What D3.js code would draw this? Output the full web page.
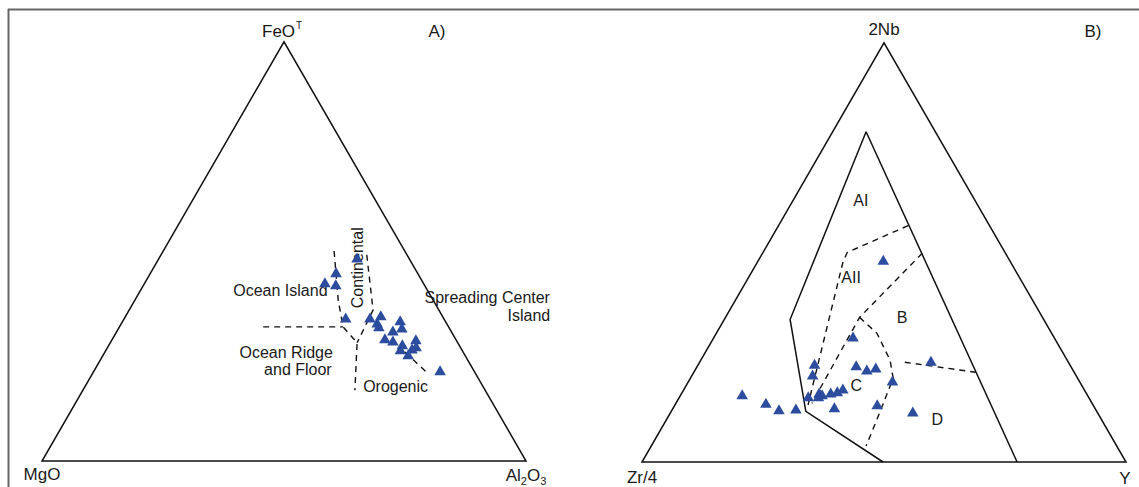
<!DOCTYPE html>
<html><head><meta charset="utf-8">
<script src="https://cdn.jsdelivr.net/npm/d3@7"></script>
<style>
html,body{margin:0;padding:0;background:#fff;}
text{font-family:"Liberation Sans",Arial,sans-serif;fill:#1a1a1a;}
</style></head>
<body><svg id="c" width="1139" height="487"></svg>
<script>
// ---- Data (ternary fractions: top, right, left) ----
// Panel A: FeOT (top), Al2O3 (right), MgO (left)
const samplesA_FeO = [0.449,0.425,0.420,0.341,0.341,0.346,0.329,0.320,0.334,0.317,0.310,0.291,0.286,0.277,0.289,0.272,0.267,0.253,0.265,0.215,0.484];
const samplesA_Al2O3 = [0.383,0.372,0.397,0.457,0.507,0.527,0.528,0.536,0.573,0.585,0.570,0.563,0.582,0.606,0.628,0.637,0.631,0.630,0.608,0.715,0.409];
// Panel B: 2Nb (top), Y (right), Zr/4 (left)
const samplesB_Nb = [0.481,0.298,0.233,0.207,0.229,0.219,0.224,0.193,0.240,0.174,0.167,0.164,0.164,0.155,0.155,0.160,0.140,0.124,0.126,0.129,0.136,0.119,0.160];
const samplesB_Y  = [0.258,0.287,0.240,0.249,0.328,0.355,0.371,0.421,0.477,0.328,0.320,0.308,0.284,0.287,0.266,0.127,0.186,0.221,0.255,0.333,0.418,0.500,0.292];

// Field boundaries (top, right)
const boundsA = [
  {dash:true, pts:[[0.501,0.353],[0.384,0.420],[0.320,0.462],[0.282,0.510],[0.169,0.562]]},
  {dash:true, pts:[[0.320,0.297],[0.320,0.462]]},
  {dash:true, pts:[[0.492,0.425],[0.360,0.504],[0.282,0.510]]},
  {dash:true, pts:[[0.260,0.620],[0.208,0.694]]}
];
const boundsB = [
  {dash:false, pts:[[0.788,0.069],[0.340,0.136],[0.121,0.278],[0.0,0.498]]},
  {dash:false, pts:[[0.788,0.069],[0.0,0.775]]},
  {dash:true, pts:[[0.564,0.268],[0.500,0.174],[0.476,0.177],[0.136,0.275]]},
  {dash:true, pts:[[0.498,0.330],[0.345,0.277],[0.140,0.281]]},
  {dash:true, pts:[[0.345,0.277],[0.307,0.332],[0.243,0.391],[0.200,0.419],[0.119,0.432],[0.038,0.444]]},
  {dash:true, pts:[[0.238,0.424],[0.214,0.583]]}
];
const fieldLabelsA = [
  {t:"Ocean Island", top:0.406, right:0.387, anchor:"end", rot:0, dx:0, dy:5},
  {t:"Continental", top:0.461, right:0.422, anchor:"middle", rot:-90, dx:0, dy:0},
  {t:"Spreading Center", top:0.389, right:0.855, anchor:"end", rot:0, dx:0, dy:5},
  {t:"Island", top:0.346, right:0.877, anchor:"end", rot:0, dx:0, dy:5},
  {t:"Ocean Ridge", top:0.258, right:0.472, anchor:"end", rot:0, dx:0, dy:5},
  {t:"and Floor", top:0.217, right:0.490, anchor:"end", rot:0, dx:0, dy:5},
  {t:"Orogenic", top:0.177, right:0.575, anchor:"start", rot:0, dx:0, dy:5}
];
const fieldLabelsB = [
  {t:"AI", top:0.624, right:0.140},
  {t:"AII", top:0.440, right:0.212},
  {t:"B", top:0.345, right:0.365},
  {t:"C", top:0.183, right:0.351},
  {t:"D", top:0.102, right:0.559}
];

const svg = d3.select("#c");
// frame
svg.append("line").attr("x1",8).attr("x2",1139).attr("y1",9.5).attr("y2",9.5).attr("stroke","#666").attr("stroke-width",2);
svg.append("line").attr("x1",8.5).attr("x2",8.5).attr("y1",9).attr("y2",487).attr("stroke","#666").attr("stroke-width",2);

function panel(cfg){
  const g = svg.append("g");
  const xs = d3.scaleLinear().domain([0,1]).range([cfg.x0, cfg.x0+cfg.side]);
  const ys = d3.scaleLinear().domain([0,1]).range([cfg.base, cfg.base - cfg.side*Math.sqrt(3)/2]);
  const P = (t,r) => [xs(r + t/2), ys(t)];
  const line = d3.line();
  // outline
  g.append("path").attr("d", line([P(0,0),P(0,1),P(1,0)])+"Z")
    .attr("fill","none").attr("stroke","#111").attr("stroke-width",1.5);
  cfg.bounds.forEach(b=>{
    g.append("path").attr("d", line(b.pts.map(p=>P(p[0],p[1]))))
      .attr("fill","none").attr("stroke","#111").attr("stroke-width",b.dash?1.4:1.5)
      .attr("stroke-dasharray", b.dash?"6,5":null);
  });
  cfg.labels.forEach(l=>{
    const [x,y] = P(l.top,l.right);
    g.append("text").attr("font-size",16)
      .attr("text-anchor", l.anchor||"middle")
      .attr("transform", `translate(${x+(l.dx||0)},${y+(l.dy===undefined?5.5:l.dy)}) rotate(${l.rot||0})`)
      .attr("dy", l.rot? "0.35em":null)
      .text(l.t);
  });
  const sym = d3.symbol().type(d3.symbolTriangle).size(58);
  cfg.top.forEach((t,i)=>{
    const [x,y] = P(t, cfg.right[i]);
    g.append("path").attr("d", sym()).attr("transform",`translate(${x},${y+1})`).attr("fill","#2c4d9e");
  });
  return P;
}

panel({x0:42, side:484, base:461, bounds:boundsA, labels:fieldLabelsA, top:samplesA_FeO, right:samplesA_Al2O3});
panel({x0:642, side:484, base:462, bounds:boundsB, labels:fieldLabelsB, top:samplesB_Nb, right:samplesB_Y});

// vertex labels
const fs = 17;
function T(x,y,anchor){ return svg.append("text").attr("x",x).attr("y",y).attr("font-size",fs).attr("text-anchor",anchor||"middle"); }
const fe = T(262,37,"start"); fe.append("tspan").text("FeO"); fe.append("tspan").attr("font-size",10).attr("dy",-8).attr("dx",1).text("T");
T(437,37).text("A)");
T(42,480).text("MgO");
const al = T(526,481);
al.append("tspan").text("Al"); al.append("tspan").attr("font-size",11).attr("dy",4).text("2");
al.append("tspan").attr("dy",-4).text("O"); al.append("tspan").attr("font-size",11).attr("dy",4).text("3");
T(884,35).text("2Nb");
T(1093,37).text("B)");
T(642,483).text("Zr/4");
T(1125,484).text("Y");
</script></body></html>
